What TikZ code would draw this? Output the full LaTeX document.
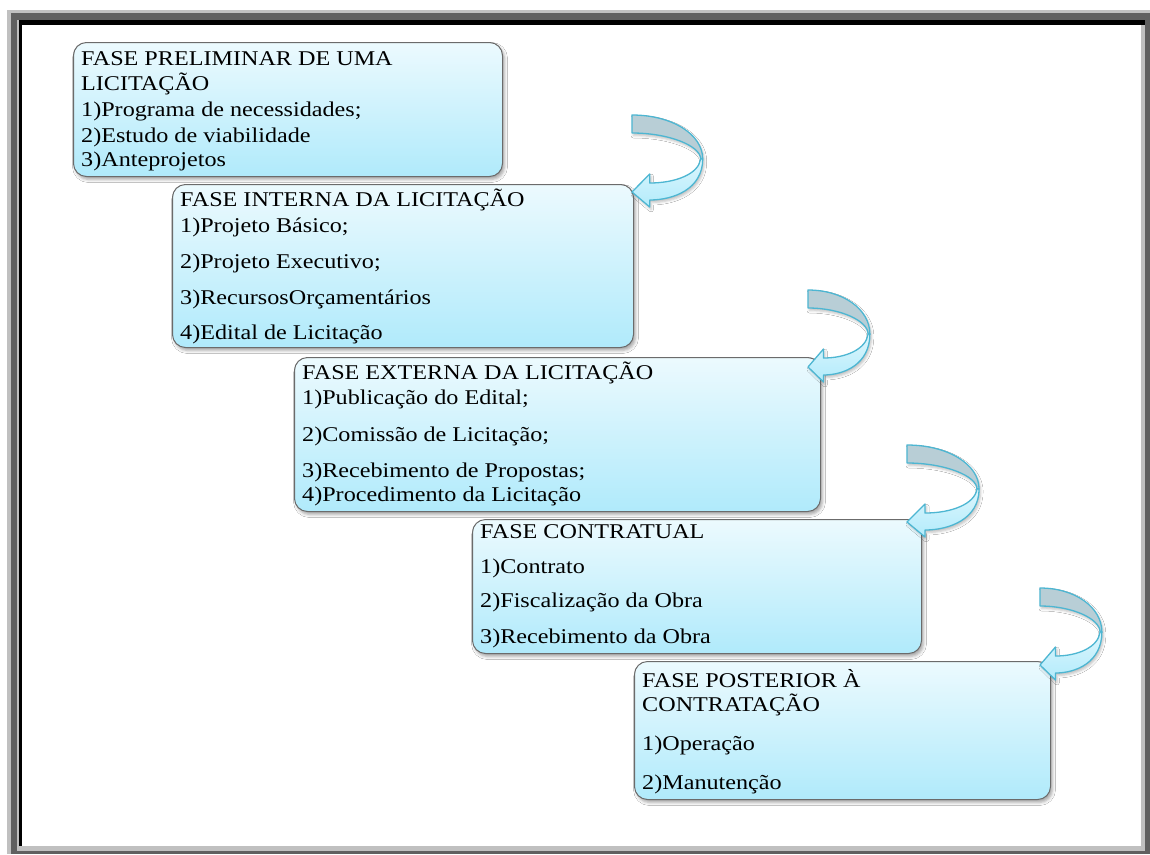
\documentclass[tikz,border=0pt]{standalone}
\usepackage{fontspec}
\newfontfamily\boxfont{Liberation Serif}[FakeStretch=1.15]
\usetikzlibrary{shadows.blur}

\definecolor{boxtop}{HTML}{ECFAFE}
\definecolor{boxbot}{HTML}{B0EAFB}
\definecolor{boxline}{HTML}{6B6B6B}
\definecolor{arrline}{HTML}{4DB6D2}
\definecolor{arrback}{HTML}{B8CED6}
\definecolor{arrtop}{HTML}{DDF6FD}
\definecolor{arrbot}{HTML}{B2EBFB}
\definecolor{framelight}{HTML}{C0C0C0}
\definecolor{framedark}{HTML}{606060}

\tikzset{
  phase/.style={draw=boxline, line width=1pt, rounded corners=13pt,
    top color=boxtop, bottom color=boxbot, inner sep=0pt,
    anchor=north west,
    blur shadow={shadow xshift=2pt, shadow yshift=-3pt,
      shadow blur radius=3pt, shadow opacity=35}},
  txt/.style={anchor=base west, inner sep=0pt, text=black,
    font=\boxfont\fontsize{21}{24}\selectfont},
  arrowshade/.style={blur shadow={shadow xshift=1.5pt, shadow yshift=-2.5pt,
      shadow blur radius=2.5pt, shadow opacity=25}},
  arrowback/.style={draw=arrline, line width=1.3pt, line join=round,
    fill=arrback},
  arrowfront/.style={draw=arrline, line width=1.3pt, line join=round,
    top color=arrtop, bottom color=arrbot},
  pics/uturn/.style={code={
    % soft shadow under the whole ribbon
    \path[arrowshade] (0,-77) .. controls (38,-77) and (68,-58) .. (68,-33)
      .. controls (68,-3) and (40,8) .. (17,8) -- (17,15) -- (0,0)
      -- (17,-18) -- (17,-9) .. controls (42,-9) and (64,-18) .. (66,-33)
      .. controls (66,-46) and (36,-59) .. (0,-59) -- cycle;
    % rear side of the ribbon
    \path[arrowback] (0,-77) .. controls (38,-77) and (68,-58) .. (68,-33)
      -- (66,-33) .. controls (66,-46) and (36,-59) .. (0,-59) -- cycle;
    % front side of the ribbon with the head
    \path[arrowfront] (68,-33) .. controls (68,-3) and (40,8) .. (17,8)
      -- (17,15) -- (0,0) -- (17,-18) -- (17,-9)
      .. controls (42,-9) and (64,-18) .. (66,-33) -- cycle;
  }}
}

\begin{document}
\begin{tikzpicture}[x=1pt, y=-1pt]
  \useasboundingbox (0,0) rectangle (1150,854);
  \fill[white] (0,0) rectangle (1150,854);

  % bevelled frame
  \fill[framelight] (7,10) rectangle (1150,854);
  \fill[framedark] (11,13) rectangle (1150,854);
  \fill[framelight] (17,20) rectangle (1145,851);
  \fill[white] (22,25) rectangle (1141,846);
  \fill[black] (19,20) rectangle (22,846);
  \fill[black] (19,20) rectangle (1145,25);

  % phase boxes
  \node[phase, minimum width=429pt, minimum height=134pt] (b1) at (73,42) {};
  \node[phase, minimum width=461pt, minimum height=163pt] (b2) at (172,184) {};
  \node[phase, minimum width=526pt, minimum height=154pt] (b3) at (294,357) {};
  \node[phase, minimum width=449pt, minimum height=134pt] (b4) at (472,519) {};
  \node[phase, minimum width=416pt, minimum height=138pt] (b5) at (634,661) {};

  % texts of the first phase
  \node[txt] (t11) at (81,65) {FASE PRELIMINAR DE UMA};
  \node[txt] (t12) at (81,90) {LICITAÇÃO};
  \node[txt] (t13) at (81,116) {1)Programa de necessidades;};
  \node[txt] (t14) at (81,142) {2)Estudo de viabilidade};
  \node[txt] (t15) at (81,166) {3)Anteprojetos};

  % texts of the second phase
  \node[txt] (t21) at (180,206) {FASE INTERNA DA LICITAÇÃO};
  \node[txt] (t22) at (180,232) {1)Projeto Básico;};
  \node[txt] (t23) at (180,268) {2)Projeto Executivo;};
  \node[txt] (t24) at (180,304) {3)RecursosOrçamentários};
  \node[txt] (t25) at (180,339) {4)Edital de Licitação};

  % texts of the third phase
  \node[txt] (t31) at (302,379) {FASE EXTERNA DA LICITAÇÃO};
  \node[txt] (t32) at (302,404) {1)Publicação do Edital;};
  \node[txt] (t33) at (302,441) {2)Comissão de Licitação;};
  \node[txt] (t34) at (302,477) {3)Recebimento de Propostas;};
  \node[txt] (t35) at (302,501) {4)Procedimento da Licitação};

  % texts of the fourth phase
  \node[txt] (t41) at (480,538) {FASE CONTRATUAL};
  \node[txt] (t42) at (480,573) {1)Contrato};
  \node[txt] (t43) at (480,607) {2)Fiscalização da Obra};
  \node[txt] (t44) at (480,643) {3)Recebimento da Obra};

  % texts of the fifth phase
  \node[txt] (t51) at (642,687) {FASE POSTERIOR À};
  \node[txt] (t52) at (642,711) {CONTRATAÇÃO};
  \node[txt] (t53) at (642,750) {1)Operação};
  \node[txt] (t54) at (642,789) {2)Manutenção};

  % turning arrows between the phases
  \pic[xscale=1.04] at (632,192) {uturn};
  \pic[xscale=0.91] at (808,367) {uturn};
  \pic[xscale=1.06] at (907,522) {uturn};
  \pic[xscale=0.91] at (1040,665) {uturn};
\end{tikzpicture}
\end{document}
